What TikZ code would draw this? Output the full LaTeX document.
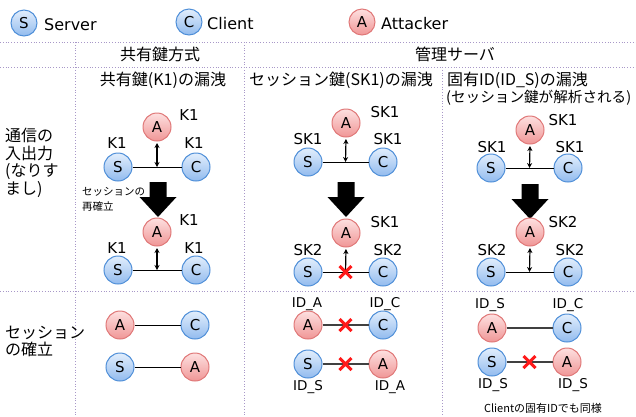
\documentclass[tikz,border=0pt]{standalone}
\usepackage{fontspec}
\setmainfont{DejaVu Sans}
\newfontfamily\jp{Noto Sans CJK JP}
\usetikzlibrary{arrows.meta}
\definecolor{bbor}{HTML}{4F8FD8}
\definecolor{btop}{HTML}{E2EEFC}
\definecolor{bbot}{HTML}{92BBEE}
\definecolor{rbor}{HTML}{E07878}
\definecolor{rtop}{HTML}{FDE0E0}
\definecolor{rbot}{HTML}{F09696}
\definecolor{gridc}{HTML}{A898C8}
\definecolor{xred}{HTML}{FF1A1A}
\tikzset{
  ent/.style={circle, minimum size=28pt, inner sep=0pt, line width=1pt, font=\fontsize{15}{15}\selectfont},
  blu/.style={ent, draw=bbor, top color=btop, bottom color=bbot},
  atk/.style={ent, draw=rbor, top color=rtop, bottom color=rbot},
  lgd/.style={ent, minimum size=26pt},
  kl/.style={font=\fontsize{15}{15}\selectfont, inner sep=0pt},
  il/.style={font=\fontsize{13.5}{13.5}\selectfont, inner sep=0pt},
  jh/.style={font=\jp\fontsize{16}{16}\selectfont, inner sep=0pt},
  link/.style={line width=0.9pt},
  glink/.style={line width=1.4pt, draw=black!75},
  dbl/.style={{Stealth[length=5pt,width=5pt]}-{Stealth[length=5pt,width=5pt]}, line width=1.2pt},
  sgl/.style={-{Stealth[length=5pt,width=5pt]}, line width=1.2pt},
  gridl/.style={draw=gridc, dotted, line width=0.8pt},
  xcross/.pic={\draw[xred, line width=3pt] (-6,-6)--(6,6) (-6,6)--(6,-6);},
  bigarrow/.pic={\fill (-8.5,0) -- (8.5,0) -- (8.5,15) -- (18.5,15) -- (0,35) -- (-18.5,15) -- (-8.5,15) -- cycle;}
}
\begin{document}
\begin{tikzpicture}[x=1pt,y=-1pt]
\useasboundingbox (0,0) rectangle (636,416);
% grid
\draw[gridl] (0,42) -- (636,42);
\draw[gridl] (0,67) -- (636,67);
\draw[gridl] (0,291) -- (636,291);
\draw[gridl] (75,42) -- (75,416);
\draw[gridl] (244,42) -- (244,416);
\draw[gridl] (442,67) -- (442,416);
% legend
\node[blu,lgd] (ls) at (24,23) {S};
\node[anchor=west, inner sep=0pt, font=\fontsize{16}{16}\selectfont] (lst) at (44,25) {Server};
\node[blu,lgd] (lc) at (189,22) {C};
\node[anchor=west, inner sep=0pt, font=\fontsize{16}{16}\selectfont] (lct) at (207,24) {Client};
\node[atk,lgd] (la) at (362,22) {A};
\node[anchor=west, inner sep=0pt, font=\fontsize{16}{16}\selectfont] (lat) at (381,24) {Attacker};
% headers
\node[jh] (h1) at (160,54) {共有鍵方式};
\node[jh] (h2) at (455,54) {管理サーバ};
\node[jh] (h11) at (163,80) {共有鍵(K1)の漏洩};
\node[jh] (h21) at (341,80) {セッション鍵(SK1)の漏洩};
\node[jh, anchor=west] (h31) at (447,80) {固有ID(ID\_S)の漏洩};
\node[jh, anchor=west, font=\jp\fontsize{14.6}{15}\selectfont] (h32) at (446,98) {(セッション鍵が解析される)};
\node[jh, anchor=west, align=left, font=\jp\fontsize{16}{17.7}\selectfont] (r1) at (5,163) {通信の\\入出力\\(なりす\\まし)};
\node[jh, anchor=west, align=left, font=\jp\fontsize{16}{17}\selectfont] (r2) at (5,341) {セッション\\の確立};
% ---- column 1 ----
\node[atk] (a1) at (157,127) {A};
\node[blu] (s1) at (118,167) {S};
\node[blu] (c1) at (196,167) {C};
\draw[link] (s1) -- (c1) coordinate[pos=0.5] (m1);
\draw[dbl] (a1.south |- 0,143) -- (m1);
\node[kl] (k1a) at (189,115) {K1};
\node[kl] (k1s) at (117,143) {K1};
\node[kl] (k1c) at (194,143) {K1};
\pic at (158,182) {bigarrow};
\node[inner sep=0pt, anchor=west, align=left, font=\jp\fontsize{10.5}{15}\selectfont] (re) at (82,199.5) {セッションの\\再確立};
\node[atk] (a1b) at (157,232) {A};
\node[blu] (s1b) at (118,270) {S};
\node[blu] (c1b) at (196,270) {C};
\draw[link] (s1b) -- (c1b) coordinate[pos=0.5] (m1b);
\draw[dbl] (a1b.south |- 0,248) -- (m1b);
\node[kl] (k1ab) at (189,220) {K1};
\node[kl] (k1sb) at (117,248) {K1};
\node[kl] (k1cb) at (194,248) {K1};
% ---- column 2 ----
\node[atk] (a2) at (346,123) {A};
\node[blu] (s2) at (308,162) {S};
\node[blu] (c2) at (383,162) {C};
\draw[link] (s2) -- (c2) coordinate[pos=0.5] (m2);
\draw[dbl] (a2.south |- 0,139) -- (m2);
\node[kl] (k2a) at (385,112) {SK1};
\node[kl] (k2s) at (308,139) {SK1};
\node[kl] (k2c) at (388,139) {SK1};
\pic at (346,182) {bigarrow};
\node[atk] (a2b) at (346,233) {A};
\node[blu] (s2b) at (308,272) {S};
\node[blu] (c2b) at (383,272) {C};
\draw[link] (s2b) -- (c2b) coordinate[pos=0.5] (m2b);
\draw[sgl] (m2b) -- (a2b.south |- 0,249);
\pic at (m2b) {xcross};
\node[kl] (k2ab) at (385,222) {SK1};
\node[kl] (k2sb) at (308,250) {SK2};
\node[kl] (k2cb) at (388,250) {SK2};
% ---- column 3 ----
\node[atk] (a3) at (530,130) {A};
\node[blu] (s3) at (491,168) {S};
\node[blu] (c3) at (568,168) {C};
\draw[link] (s3) -- (c3) coordinate[pos=0.5] (m3);
\draw[dbl] (a3.south |- 0,146) -- (m3);
\node[kl] (k3a) at (563,120) {SK1};
\node[kl] (k3s) at (492,147) {SK1};
\node[kl] (k3c) at (570,147) {SK1};
\pic at (530,184) {bigarrow};
\node[atk] (a3b) at (530,232) {A};
\node[blu] (s3b) at (491,272) {S};
\node[blu] (c3b) at (568,272) {C};
\draw[link] (s3b) -- (c3b) coordinate[pos=0.5] (m3b);
\draw[dbl] (a3b.south |- 0,248) -- (m3b);
\node[kl] (k3ab) at (563,222) {SK2};
\node[kl] (k3sb) at (492,250) {SK2};
\node[kl] (k3cb) at (570,250) {SK2};
% ---- row 3, column 1 ----
\node[atk] (e1a) at (120,325) {A};
\node[blu] (e1c) at (195,325) {C};
\draw[link] (e1a) -- (e1c);
\node[blu] (e1s) at (120,367) {S};
\node[atk] (e1a2) at (195,367) {A};
\draw[link] (e1s) -- (e1a2);
% ---- row 3, column 2 ----
\node[atk] (e2a) at (308,325) {A};
\node[blu] (e2c) at (383,325) {C};
\draw[glink] (e2a) -- (e2c) coordinate[pos=0.5] (x2a);
\pic at (x2a) {xcross};
\node[il] (i2a) at (307,304) {ID\_A};
\node[il] (i2c) at (385,304) {ID\_C};
\node[blu] (e2s) at (308,364) {S};
\node[atk] (e2a2) at (383,364) {A};
\draw[glink] (e2s) -- (e2a2) coordinate[pos=0.5] (x2b);
\pic at (x2b) {xcross};
\node[il] (i2s) at (308,387) {ID\_S};
\node[il] (i2a2) at (390,387) {ID\_A};
% ---- row 3, column 3 ----
\node[atk] (e3a) at (492,328) {A};
\node[blu] (e3c) at (567,328) {C};
\draw[glink] (e3a) -- (e3c);
\node[il] (i3a) at (490,305) {ID\_S};
\node[il] (i3c) at (568,305) {ID\_C};
\node[blu] (e3s) at (492,362) {S};
\node[atk] (e3a2) at (567,362) {A};
\draw[glink] (e3s) -- (e3a2) coordinate[pos=0.5] (x3b);
\pic at (x3b) {xcross};
\node[il] (i3s) at (493,385) {ID\_S};
\node[il] (i3a2) at (573,385) {ID\_S};
\node[inner sep=0pt, font=\jp\fontsize{11}{11}\selectfont] (note) at (543,408) {Clientの固有IDでも同様};
\end{tikzpicture}
\end{document}
